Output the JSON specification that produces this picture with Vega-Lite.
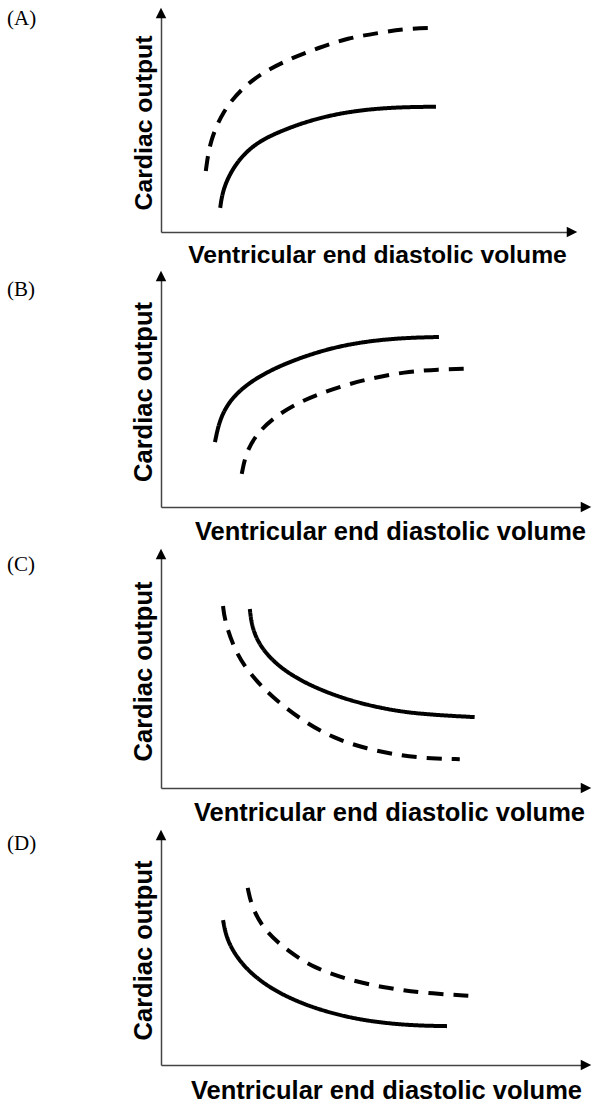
{
  "$schema": "https://vega.github.io/schema/vega-lite/v6.json",
  "padding": {"left": 7, "top": 7, "right": 0, "bottom": 0},
  "autosize": {"type": "pad"},
  "background": "white",
  "spacing": 3,
  "config": {
    "view": {"stroke": null},
    "axis": {"labels": false, "ticks": false, "grid": false, "domainColor": "#444", "domainWidth": 1.5, "titleFont": "Liberation Sans", "titleFontWeight": "bold", "titleColor": "black"},
    "title": {"font": "Liberation Serif", "fontWeight": "normal", "color": "black", "anchor": "start", "frame": "group", "baseline": "middle", "fontSize": 21}
  },
  "datasets": {
    "curves": [
      {"panel": "A", "curve": "dashed", "x": 10.9, "y": 27.9},
      {"panel": "A", "curve": "dashed", "x": 11.9, "y": 41.6},
      {"panel": "A", "curve": "dashed", "x": 15.1, "y": 55.3},
      {"panel": "A", "curve": "dashed", "x": 19.7, "y": 65.8},
      {"panel": "A", "curve": "dashed", "x": 25.3, "y": 73.5},
      {"panel": "A", "curve": "dashed", "x": 31.9, "y": 79.5},
      {"panel": "A", "curve": "dashed", "x": 38.2, "y": 84.0},
      {"panel": "A", "curve": "dashed", "x": 45.5, "y": 88.6},
      {"panel": "A", "curve": "dashed", "x": 53.0, "y": 90.9},
      {"panel": "A", "curve": "dashed", "x": 59.4, "y": 92.8},
      {"panel": "A", "curve": "dashed", "x": 66.4, "y": 93.2},
      {"panel": "A", "curve": "solid", "x": 14.4, "y": 11.0},
      {"panel": "A", "curve": "solid", "x": 15.1, "y": 20.1},
      {"panel": "A", "curve": "solid", "x": 18.0, "y": 31.1},
      {"panel": "A", "curve": "solid", "x": 22.6, "y": 40.2},
      {"panel": "A", "curve": "solid", "x": 29.0, "y": 46.1},
      {"panel": "A", "curve": "solid", "x": 37.2, "y": 51.6},
      {"panel": "A", "curve": "solid", "x": 46.5, "y": 55.3},
      {"panel": "A", "curve": "solid", "x": 56.7, "y": 57.0},
      {"panel": "A", "curve": "solid", "x": 66.9, "y": 57.2},
      {"panel": "B", "curve": "solid", "x": 12.7, "y": 28.1},
      {"panel": "B", "curve": "solid", "x": 13.8, "y": 38.1},
      {"panel": "B", "curve": "solid", "x": 16.4, "y": 46.8},
      {"panel": "B", "curve": "solid", "x": 20.9, "y": 54.2},
      {"panel": "B", "curve": "solid", "x": 27.3, "y": 60.7},
      {"panel": "B", "curve": "solid", "x": 35.3, "y": 66.3},
      {"panel": "B", "curve": "solid", "x": 44.0, "y": 70.6},
      {"panel": "B", "curve": "solid", "x": 54.8, "y": 73.1},
      {"panel": "B", "curve": "solid", "x": 65.4, "y": 73.6},
      {"panel": "B", "curve": "dashed", "x": 19.0, "y": 14.3},
      {"panel": "B", "curve": "dashed", "x": 20.0, "y": 23.8},
      {"panel": "B", "curve": "dashed", "x": 22.8, "y": 32.4},
      {"panel": "B", "curve": "dashed", "x": 27.3, "y": 39.8},
      {"panel": "B", "curve": "dashed", "x": 33.4, "y": 46.3},
      {"panel": "B", "curve": "dashed", "x": 40.4, "y": 51.1},
      {"panel": "B", "curve": "dashed", "x": 48.4, "y": 55.4},
      {"panel": "B", "curve": "dashed", "x": 57.4, "y": 58.5},
      {"panel": "B", "curve": "dashed", "x": 65.4, "y": 59.6},
      {"panel": "B", "curve": "dashed", "x": 72.2, "y": 59.9},
      {"panel": "C", "curve": "dashed", "x": 14.6, "y": 77.8},
      {"panel": "C", "curve": "dashed", "x": 15.0, "y": 71.4},
      {"panel": "C", "curve": "dashed", "x": 17.4, "y": 58.5},
      {"panel": "C", "curve": "dashed", "x": 20.9, "y": 48.7},
      {"panel": "C", "curve": "dashed", "x": 26.3, "y": 38.5},
      {"panel": "C", "curve": "dashed", "x": 33.4, "y": 28.6},
      {"panel": "C", "curve": "dashed", "x": 40.4, "y": 21.4},
      {"panel": "C", "curve": "dashed", "x": 48.4, "y": 16.7},
      {"panel": "C", "curve": "dashed", "x": 56.7, "y": 13.7},
      {"panel": "C", "curve": "dashed", "x": 63.7, "y": 12.6},
      {"panel": "C", "curve": "dashed", "x": 70.3, "y": 12.3},
      {"panel": "C", "curve": "solid", "x": 20.9, "y": 76.5},
      {"panel": "C", "curve": "solid", "x": 21.4, "y": 68.4},
      {"panel": "C", "curve": "solid", "x": 23.5, "y": 59.8},
      {"panel": "C", "curve": "solid", "x": 28.0, "y": 51.3},
      {"panel": "C", "curve": "solid", "x": 34.3, "y": 44.4},
      {"panel": "C", "curve": "solid", "x": 42.3, "y": 38.5},
      {"panel": "C", "curve": "solid", "x": 51.3, "y": 34.2},
      {"panel": "C", "curve": "solid", "x": 60.2, "y": 31.6},
      {"panel": "C", "curve": "solid", "x": 73.8, "y": 30.3},
      {"panel": "D", "curve": "solid", "x": 14.6, "y": 63.0},
      {"panel": "D", "curve": "solid", "x": 15.5, "y": 53.9},
      {"panel": "D", "curve": "solid", "x": 19.0, "y": 43.5},
      {"panel": "D", "curve": "solid", "x": 24.4, "y": 34.8},
      {"panel": "D", "curve": "solid", "x": 31.5, "y": 27.8},
      {"panel": "D", "curve": "solid", "x": 39.7, "y": 22.6},
      {"panel": "D", "curve": "solid", "x": 48.4, "y": 19.1},
      {"panel": "D", "curve": "solid", "x": 58.3, "y": 17.2},
      {"panel": "D", "curve": "solid", "x": 67.3, "y": 16.9},
      {"panel": "D", "curve": "dashed", "x": 20.4, "y": 77.0},
      {"panel": "D", "curve": "dashed", "x": 21.4, "y": 68.3},
      {"panel": "D", "curve": "dashed", "x": 24.4, "y": 58.3},
      {"panel": "D", "curve": "dashed", "x": 29.8, "y": 49.6},
      {"panel": "D", "curve": "dashed", "x": 36.0, "y": 42.2},
      {"panel": "D", "curve": "dashed", "x": 44.0, "y": 37.0},
      {"panel": "D", "curve": "dashed", "x": 52.9, "y": 33.5},
      {"panel": "D", "curve": "dashed", "x": 61.8, "y": 31.3},
      {"panel": "D", "curve": "dashed", "x": 73.1, "y": 30.0}
    ],
    "arrows": [
      {"dir": "up", "x": 0, "y": 100},
      {"dir": "right", "x": 100, "y": 0}
    ]
  },
  "vconcat": [
    {
      "width": 411, "height": 219,
      "title": {"text": "(A)", "dx": -154, "offset": -21},
      "layer": [
        {
          "data": {"name": "curves"},
          "transform": [{"filter": "datum.panel == 'A'"}],
          "mark": {"type": "line", "color": "black", "strokeWidth": 4, "interpolate": "basis"},
          "encoding": {
            "x": {"field": "x", "type": "quantitative", "scale": {"domain": [0, 100], "nice": false}, "axis": {"title": "Ventricular end diastolic volume", "titleFontSize": 24.7, "titleX": 216, "titleY": 30, "titleAlign": "center", "titleBaseline": "alphabetic"}},
            "y": {"field": "y", "type": "quantitative", "scale": {"domain": [0, 100], "nice": false}, "axis": {"title": "Cardiac output", "titleFontSize": 24.8, "titleX": -10, "titleAngle": 270, "titleBaseline": "alphabetic"}},
            "detail": {"field": "curve"},
            "strokeDash": {"field": "curve", "type": "nominal", "scale": {"domain": ["solid", "dashed"], "range": [[1, 0], [15, 10]]}, "legend": null}
          }
        },
        {
          "data": {"name": "arrows"},
          "mark": {"type": "point", "filled": true, "color": "black", "opacity": 1, "size": 110},
          "encoding": {
            "x": {"field": "x", "type": "quantitative"},
            "y": {"field": "y", "type": "quantitative"},
            "shape": {"field": "dir", "type": "nominal", "scale": {"domain": ["up", "right"], "range": ["M0,-1L1,1L-1,1Z", "M1,0L-1,-1L-1,1Z"]}, "legend": null}
          }
        }
      ]
    },
    {
      "width": 425, "height": 231,
      "title": {"text": "(B)", "dx": -154, "offset": -29},
      "layer": [
        {
          "data": {"name": "curves"},
          "transform": [{"filter": "datum.panel == 'B'"}],
          "mark": {"type": "line", "color": "black", "strokeWidth": 4, "interpolate": "basis"},
          "encoding": {
            "x": {"field": "x", "type": "quantitative", "scale": {"domain": [0, 100], "nice": false}, "axis": {"title": "Ventricular end diastolic volume", "titleFontSize": 25.5, "titleX": 229, "titleY": 32, "titleAlign": "center", "titleBaseline": "alphabetic"}},
            "y": {"field": "y", "type": "quantitative", "scale": {"domain": [0, 100], "nice": false}, "axis": {"title": "Cardiac output", "titleFontSize": 25.5, "titleX": -10, "titleAngle": 270, "titleBaseline": "alphabetic"}},
            "detail": {"field": "curve"},
            "strokeDash": {"field": "curve", "type": "nominal", "scale": {"domain": ["solid", "dashed"], "range": [[1, 0], [15, 10]]}, "legend": null}
          }
        },
        {
          "data": {"name": "arrows"},
          "mark": {"type": "point", "filled": true, "color": "black", "opacity": 1, "size": 110},
          "encoding": {
            "x": {"field": "x", "type": "quantitative"},
            "y": {"field": "y", "type": "quantitative"},
            "shape": {"field": "dir", "type": "nominal", "scale": {"domain": ["up", "right"], "range": ["M0,-1L1,1L-1,1Z", "M1,0L-1,-1L-1,1Z"]}, "legend": null}
          }
        }
      ]
    },
    {
      "width": 425, "height": 234,
      "title": {"text": "(C)", "dx": -154, "offset": -26},
      "layer": [
        {
          "data": {"name": "curves"},
          "transform": [{"filter": "datum.panel == 'C'"}],
          "mark": {"type": "line", "color": "black", "strokeWidth": 4, "interpolate": "basis"},
          "encoding": {
            "x": {"field": "x", "type": "quantitative", "scale": {"domain": [0, 100], "nice": false}, "axis": {"title": "Ventricular end diastolic volume", "titleFontSize": 25.5, "titleX": 228, "titleY": 32, "titleAlign": "center", "titleBaseline": "alphabetic"}},
            "y": {"field": "y", "type": "quantitative", "scale": {"domain": [0, 100], "nice": false}, "axis": {"title": "Cardiac output", "titleFontSize": 25.5, "titleX": -10, "titleAngle": 270, "titleBaseline": "alphabetic"}},
            "detail": {"field": "curve"},
            "strokeDash": {"field": "curve", "type": "nominal", "scale": {"domain": ["solid", "dashed"], "range": [[1, 0], [15, 10]]}, "legend": null}
          }
        },
        {
          "data": {"name": "arrows"},
          "mark": {"type": "point", "filled": true, "color": "black", "opacity": 1, "size": 110},
          "encoding": {
            "x": {"field": "x", "type": "quantitative"},
            "y": {"field": "y", "type": "quantitative"},
            "shape": {"field": "dir", "type": "nominal", "scale": {"domain": ["up", "right"], "range": ["M0,-1L1,1L-1,1Z", "M1,0L-1,-1L-1,1Z"]}, "legend": null}
          }
        }
      ]
    },
    {
      "width": 425, "height": 230,
      "title": {"text": "(D)", "dx": -154, "offset": -24},
      "layer": [
        {
          "data": {"name": "curves"},
          "transform": [{"filter": "datum.panel == 'D'"}],
          "mark": {"type": "line", "color": "black", "strokeWidth": 4, "interpolate": "basis"},
          "encoding": {
            "x": {"field": "x", "type": "quantitative", "scale": {"domain": [0, 100], "nice": false}, "axis": {"title": "Ventricular end diastolic volume", "titleFontSize": 25.5, "titleX": 225, "titleY": 33, "titleAlign": "center", "titleBaseline": "alphabetic"}},
            "y": {"field": "y", "type": "quantitative", "scale": {"domain": [0, 100], "nice": false}, "axis": {"title": "Cardiac output", "titleFontSize": 25.5, "titleX": -10, "titleAngle": 270, "titleBaseline": "alphabetic"}},
            "detail": {"field": "curve"},
            "strokeDash": {"field": "curve", "type": "nominal", "scale": {"domain": ["solid", "dashed"], "range": [[1, 0], [15, 10]]}, "legend": null}
          }
        },
        {
          "data": {"name": "arrows"},
          "mark": {"type": "point", "filled": true, "color": "black", "opacity": 1, "size": 110},
          "encoding": {
            "x": {"field": "x", "type": "quantitative"},
            "y": {"field": "y", "type": "quantitative"},
            "shape": {"field": "dir", "type": "nominal", "scale": {"domain": ["up", "right"], "range": ["M0,-1L1,1L-1,1Z", "M1,0L-1,-1L-1,1Z"]}, "legend": null}
          }
        }
      ]
    }
  ]
}
